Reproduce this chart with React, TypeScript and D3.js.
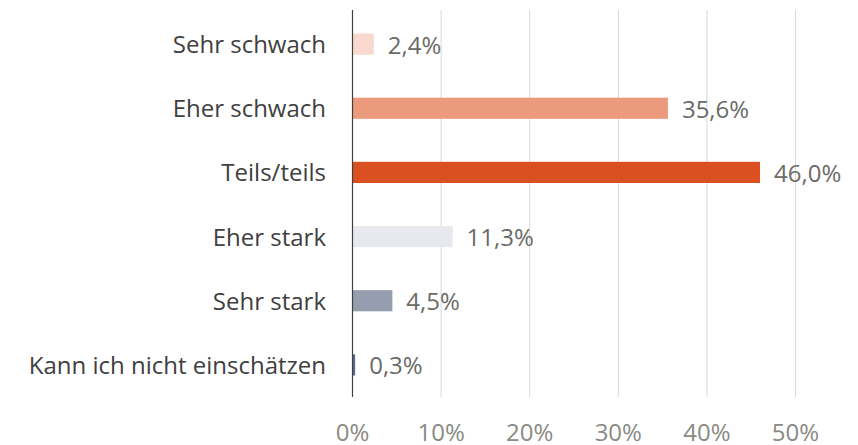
import React, { useRef, useEffect } from 'react';
import * as d3 from 'd3';

const categories = [
  'Sehr schwach',
  'Eher schwach',
  'Teils/teils',
  'Eher stark',
  'Sehr stark',
  'Kann ich nicht einschätzen',
];
const values = [2.4, 35.6, 46.0, 11.3, 4.5, 0.3];
const barColors = ['#F8D8CF', '#EC9A7C', '#DA5020', '#E8E9EF', '#969DAF', '#5C6A8E'];
const ticks = [0, 10, 20, 30, 40, 50];

const width = 858;
const height = 445;

const App: React.FC = () => {
  const svgRef = useRef<SVGSVGElement | null>(null);

  useEffect(() => {
    if (!svgRef.current) return;
    const svg = d3.select(svgRef.current);
    svg.selectAll('*').remove();

    const font = '"Open Sans", sans-serif';
    const x = d3.scaleLinear().domain([0, 50]).range([352.5, 795.5]);
    const y = d3.scaleBand<string>()
      .domain(categories)
      .range([12, 397])
      .paddingInner(0.67)
      .paddingOuter(0.335);

    // gridlines
    svg.append('g')
      .selectAll('line')
      .data(ticks.slice(1))
      .join('line')
      .attr('x1', d => x(d))
      .attr('x2', d => x(d))
      .attr('y1', 10)
      .attr('y2', 397)
      .attr('stroke', '#D9D9D9')
      .attr('stroke-width', 1);

    // tick labels
    svg.append('g')
      .selectAll('text')
      .data(ticks)
      .join('text')
      .attr('x', d => x(d))
      .attr('y', 441)
      .attr('text-anchor', 'middle')
      .style('font-family', font)
      .style('font-size', '24px')
      .attr('fill', '#8A8A84')
      .text(d => `${d}%`);

    // bars
    svg.append('g')
      .selectAll('rect')
      .data(values)
      .join('rect')
      .attr('x', x(0))
      .attr('y', (d, i) => y(categories[i])!)
      .attr('width', d => x(d) - x(0))
      .attr('height', y.bandwidth())
      .attr('fill', (d, i) => barColors[i]);

    // value labels
    svg.append('g')
      .selectAll('text')
      .data(values)
      .join('text')
      .attr('x', d => x(d) + 14)
      .attr('y', (d, i) => y(categories[i])! + y.bandwidth() / 2 + 9.5)
      .style('font-family', font)
      .style('font-size', '24px')
      .attr('fill', '#6B6B66')
      .text(d => d.toFixed(1).replace('.', ',') + '%');

    // category labels
    svg.append('g')
      .selectAll('text')
      .data(categories)
      .join('text')
      .attr('x', 326)
      .attr('y', d => y(d)! + y.bandwidth() / 2 + 9)
      .attr('text-anchor', 'end')
      .style('font-family', font)
      .style('font-size', '24px')
      .attr('fill', '#404040')
      .text(d => d);

    // vertical axis line
    svg.append('line')
      .attr('x1', x(0))
      .attr('x2', x(0))
      .attr('y1', 10)
      .attr('y2', 397)
      .attr('stroke', '#404040')
      .attr('stroke-width', 1.2);
  }, []);

  return (
    <svg
      ref={svgRef}
      width={width}
      height={height}
      style={{ position: 'absolute', left: 0, top: 0, background: '#fff' }}
    />
  );
};

export default App;
